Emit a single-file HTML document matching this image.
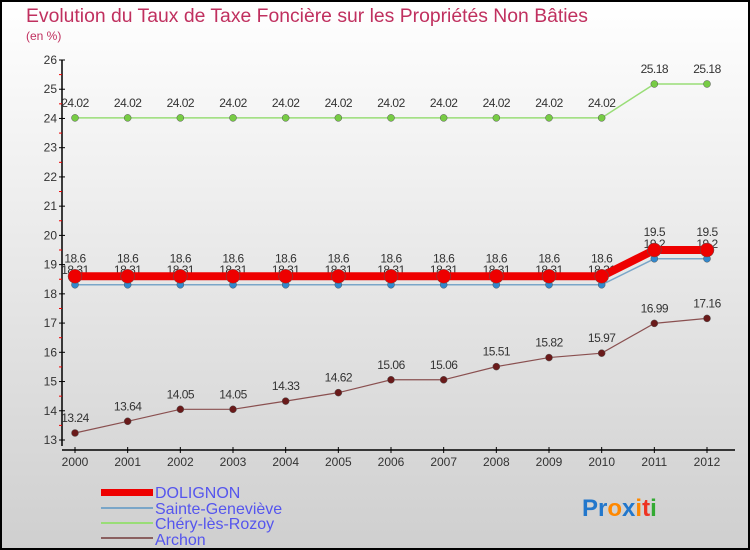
<!DOCTYPE html>
<html><head><meta charset="utf-8">
<style>
body{margin:0;width:750px;height:550px;overflow:hidden}
svg{display:block;font-family:"Liberation Sans",sans-serif}
</style></head><body>
<svg id="c" width="750" height="550">
<defs><linearGradient id="bg" x1="0" y1="0" x2="0" y2="1"><stop offset="0" stop-color="#ffffff"/><stop offset="1" stop-color="#cfcfcf"/></linearGradient></defs>
<rect x="1" y="1" width="748" height="548" fill="url(#bg)" stroke="#000" stroke-width="2"/>
<text x="26" y="22" font-size="19" fill="#c0305f" textLength="562" lengthAdjust="spacingAndGlyphs">Evolution du Taux de Taxe Foncière sur les Propriétés Non Bâties</text>
<text x="26" y="40" font-size="12" fill="#c0305f">(en %)</text>
<g id="axes"></g><g id="series"></g>
<g font-size="16" fill="#5555ee">
<rect x="101" y="489" width="52" height="7" fill="#ee0000"/>
<text x="155" y="498">DOLIGNON</text>
<rect x="101" y="507" width="52" height="2" fill="#7aa6c8"/>
<text x="155" y="514">Sainte-Geneviève</text>
<rect x="101" y="522" width="52" height="2" fill="#99dd77"/>
<text x="155" y="529">Chéry-lès-Rozoy</text>
<rect x="101" y="537" width="52" height="2" fill="#8a6060"/>
<text x="155" y="545">Archon</text>
</g>
<g font-size="24" font-weight="bold">
<text x="582" y="516"><tspan fill="#2277cc">Pr</tspan><tspan fill="#ff8800">o</tspan><tspan fill="#2277cc">x</tspan><tspan fill="#ff8800">i</tspan><tspan fill="#ee3322">t</tspan><tspan fill="#33aa33">i</tspan></text>
</g>
</svg>
<script>
const years=[2000,2001,2002,2003,2004,2005,2006,2007,2008,2009,2010,2011,2012];
const dolignon=[18.6,18.6,18.6,18.6,18.6,18.6,18.6,18.6,18.6,18.6,18.6,19.5,19.5];
const sainteGenevieve=[18.31,18.31,18.31,18.31,18.31,18.31,18.31,18.31,18.31,18.31,18.31,19.2,19.2];
const chery=[24.02,24.02,24.02,24.02,24.02,24.02,24.02,24.02,24.02,24.02,24.02,25.18,25.18];
const archon=[13.24,13.64,14.05,14.05,14.33,14.62,15.06,15.06,15.51,15.82,15.97,16.99,17.16];
const yTicks=[13,14,15,16,17,18,19,20,21,22,23,24,25,26];
const NS="http://www.w3.org/2000/svg";
const X=i=>75+i*(707-75)/(years.length-1);
const Y=v=>60+(26-v)*(380/13);
function mk(p,t,a){const e=document.createElementNS(NS,t);for(const k in a)e.setAttribute(k,a[k]);p.appendChild(e);return e;}
const ax=document.getElementById('axes');
let e=mk(ax,'line',{x1:62,y1:60,x2:62,y2:446,stroke:'#000','stroke-width':1.5});


e=mk(ax,'line',{x1:62,y1:450,x2:735,y2:450,stroke:'#000','stroke-width':1.5});


yTicks.forEach(v=>{
 mk(ax,'line',{x1:59,y1:Y(v),x2:65,y2:Y(v),stroke:'#000'});
 if(v<26)mk(ax,'line',{x1:59,y1:Y(v+0.5),x2:62,y2:Y(v+0.5),stroke:'#e00'});
 const t=mk(ax,'text',{x:57,y:Y(v)+4,'font-size':12,'text-anchor':'end',fill:'#333'});
 t.textContent=v;
 
 
});
years.forEach((y,i)=>{
 mk(ax,'line',{x1:X(i),y1:447,x2:X(i),y2:453,stroke:'#000'});
 const t=mk(ax,'text',{x:X(i),y:466,'font-size':12,'text-anchor':'middle',fill:'#333'});
 t.textContent=y;
 
 
});
const sg=document.getElementById('series');
function series(name,vals,color,w,r,dot,lblDy){
 const g=mk(sg,'g',{});
 
 
 const l=mk(g,'polyline',{points:vals.map((v,i)=>X(i)+','+Y(v)).join(' '),fill:'none',stroke:color,'stroke-width':w});
 
 
 vals.forEach((v,i)=>{
  const c=mk(g,'circle',{cx:X(i),cy:Y(v),r:r,fill:dot,stroke:'#555','stroke-width':0.5});
  
  
  const t=mk(g,'text',{x:X(i),y:Y(v)+lblDy,'font-size':12,'text-anchor':'middle',fill:'#333','letter-spacing':'-0.5'});
  t.textContent=v;
  
  
 });
}
series('chery',chery,'#99dd77',1.5,3.5,'#77cc44',-11);
series('archon',archon,'#8a5050',1.2,3.5,'#6a1a1a',-11);
series('sainte-genevieve',sainteGenevieve,'#7aa6c8',1.5,3.5,'#3388cc',-11);
series('dolignon',dolignon,'#ee0000',8,7,'#ee0000',-14);
</script>
</body></html>
